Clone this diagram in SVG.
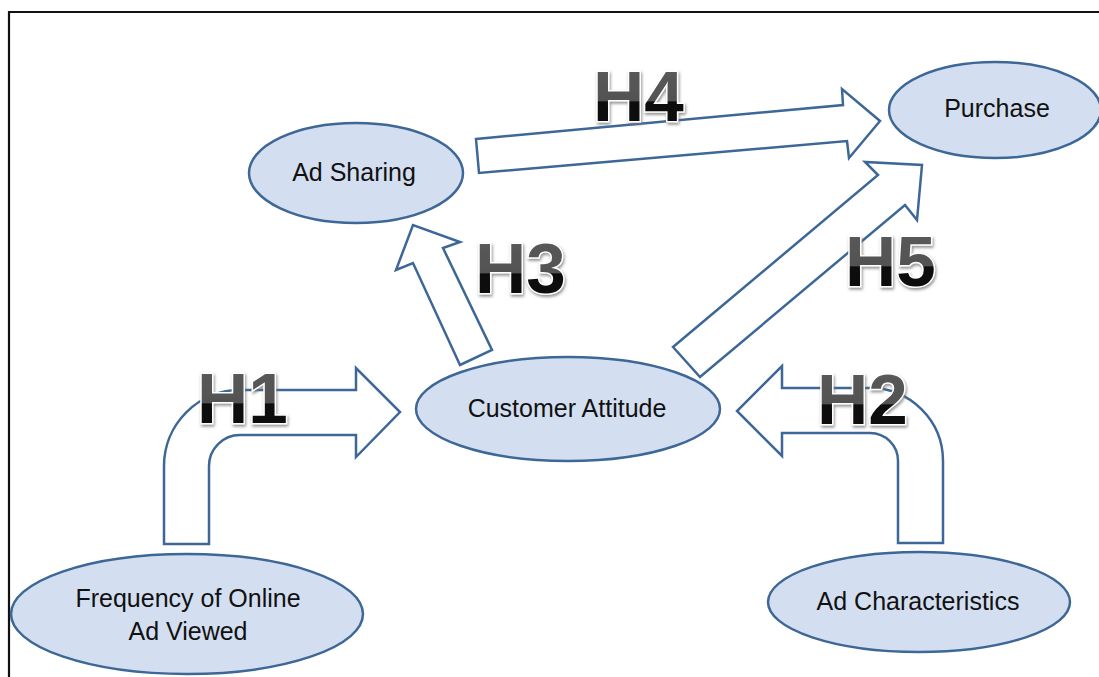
<svg xmlns="http://www.w3.org/2000/svg" width="1099" height="677" viewBox="0 0 1099 677">
  <defs>
    <style>
      .node ellipse { fill: #d3dff0; stroke: #3d6796; stroke-width: 2.5; }
      .node text { font-family: "Liberation Sans", Arial, sans-serif; font-size: 25px; fill: #111; text-anchor: middle; }
      .arrow { fill: #ffffff; stroke: #3d6796; stroke-width: 2.5; stroke-linejoin: miter; }
      .hlabel { font-family: "Liberation Sans", Arial, sans-serif; font-weight: bold; font-size: 71px;
                fill: url(#hfill); stroke: #ffffff; stroke-width: 3; paint-order: stroke; filter: url(#glow); }
    </style>
    <linearGradient id="hfill" x1="0" y1="0" x2="0" y2="1">
      <stop offset="0" stop-color="#5c5c5c"/>
      <stop offset="0.56" stop-color="#525252"/>
      <stop offset="0.565" stop-color="#111111"/>
      <stop offset="1" stop-color="#000000"/>
    </linearGradient>
    <filter id="glow" x="-20%" y="-20%" width="140%" height="140%">
      <feGaussianBlur in="SourceAlpha" stdDeviation="1.8" result="b"/>
      <feOffset in="b" dx="1" dy="1.5" result="o"/>
      <feFlood flood-color="#777777" flood-opacity="0.8"/>
      <feComposite in2="o" operator="in" result="s"/>
      <feMerge>
        <feMergeNode in="s"/>
        <feMergeNode in="SourceGraphic"/>
      </feMerge>
    </filter>
  </defs>

  <rect width="1099" height="677" fill="#ffffff"/>
  <!-- frame -->
  <path d="M9,677 L9,12 L1099,12" fill="none" stroke="#111" stroke-width="2.2"/>

  <!-- nodes -->
  <g id="purchase" class="node">
    <ellipse cx="995" cy="110" rx="106" ry="48"/>
    <text x="997" y="117">Purchase</text>
  </g>
  <g id="ad-sharing" class="node">
    <ellipse cx="356" cy="173" rx="107" ry="50"/>
    <text x="354" y="181">Ad Sharing</text>
  </g>
  <g id="customer-attitude" class="node">
    <ellipse cx="568" cy="409" rx="152" ry="52"/>
    <text x="567" y="417">Customer Attitude</text>
  </g>
  <g id="frequency" class="node">
    <ellipse cx="187" cy="614" rx="176" ry="60"/>
    <text x="188" y="607">Frequency of Online</text>
    <text x="188" y="640">Ad Viewed</text>
  </g>
  <g id="ad-characteristics" class="node">
    <ellipse cx="919" cy="602" rx="151" ry="50"/>
    <text x="918" y="610">Ad Characteristics</text>
  </g>

  <!-- connectors -->
  <g id="connectors">
    <path class="arrow" d="M164,544 L164,466 A76,76 0 0 1 240,390 L356,390 L356,368 L400,412 L356,457 L356,435 L240,435 A31,31 0 0 0 209,466 L209,544 Z"/>
    <path class="arrow" d="M943,543 L943,461 A73,73 0 0 0 870,388 L782,388 L782,366 L737,411 L782,456 L782,433 L870,433 A28,28 0 0 1 898,461 L898,543 Z"/>
    <path class="arrow" d="M460,365 L413,263 L396,270 L413,225 L460,242 L443,248 L492,350 Z"/>
    <path class="arrow" d="M476,139 L843,105 L842,89 L880,121 L849,158 L847,141 L479,173 Z"/>
    <path class="arrow" d="M673,347 L878,175 L865,162 L922,165 L917,220 L905,205 L700,377 Z"/>
  </g>

  <!-- hypothesis labels -->
  <g id="labels">
    <text class="hlabel" x="197" y="423">H1</text>
    <text class="hlabel" x="817" y="424">H2</text>
    <text class="hlabel" x="475" y="293">H3</text>
    <text class="hlabel" x="593" y="121">H4</text>
    <text class="hlabel" x="845" y="286">H5</text>
  </g>
</svg>
